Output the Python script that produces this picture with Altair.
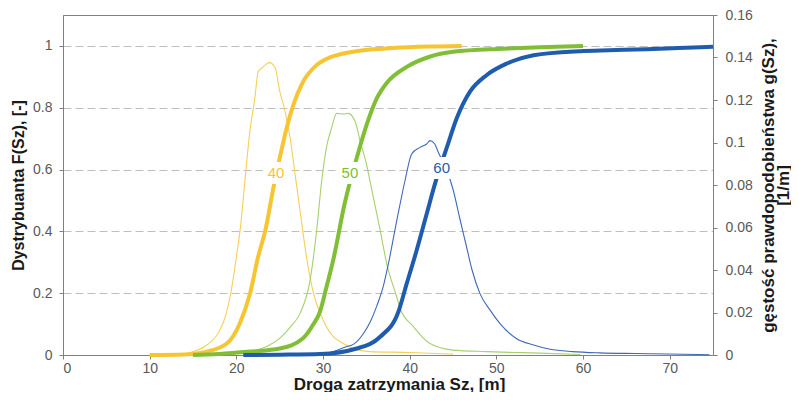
import altair as alt
import pandas as pd

# ---- data ----
# density g(Sz) [1/m]  (thin lines, right axis)
pdf40_x = [10, 14, 15, 16.6, 18.1, 18.8, 19.4, 20.0, 20.5, 21.1, 21.57, 22.15, 22.5, 23.1, 23.5, 23.8,
           24.46, 25.0, 25.6, 26.2, 26.77, 27.35, 28.1, 28.9, 29.85, 31.2, 32.0, 33.5, 35.4, 40, 45]
pdf40_g = [0, 0.0005, 0.0016, 0.0047, 0.0117, 0.019, 0.03, 0.046, 0.061, 0.0868, 0.1056, 0.1212, 0.133,
           0.1356, 0.137, 0.1376, 0.1354, 0.1243, 0.115, 0.1024, 0.0853, 0.068, 0.046, 0.029, 0.018, 0.0086,
           0.0062, 0.003, 0.0016, 0.0012, 0.0004]

pdf50_x = [15, 20, 21.6, 23.5, 25.0, 26.2, 27.35, 28.5, 29.27, 29.85, 30.4, 31.0, 31.57, 32.34, 32.9, 33.7,
           34.27, 35.0, 35.8, 36.6, 37.35, 38.5, 38.9, 40.4, 42.3, 45, 48.9, 52, 55, 59.7]
pdf50_g = [0, 0.0008, 0.0016, 0.004, 0.0078, 0.013, 0.0196, 0.035, 0.0587, 0.082, 0.0977, 0.107, 0.1137,
           0.1134, 0.1137, 0.110, 0.1009, 0.09, 0.0743, 0.0587, 0.043, 0.0274, 0.0219, 0.0135, 0.0055,
           0.0023, 0.0016, 0.0012, 0.0009, 0.0002]

pdf60_x = [29.6, 31.2, 32.7, 33.5, 34.65, 35.5, 36.2, 37.0, 37.6, 38.5, 39.46, 40.23, 41.2, 41.96, 42.35,
           42.9, 43.3, 44.2, 45.0, 45.8, 46.5, 47.2, 48.1, 49.3, 50.4, 52.3, 54.3, 56.2, 58.8, 61.9, 66,
           69.7, 74.6]
pdf60_g = [0, 0.0016, 0.0039, 0.005, 0.010, 0.016, 0.023, 0.033, 0.044, 0.063, 0.082, 0.0946, 0.0977,
           0.0993, 0.1009, 0.0993, 0.0954, 0.088, 0.078, 0.064, 0.052, 0.04, 0.029, 0.021, 0.0149,
           0.0078, 0.0047, 0.0027, 0.0016, 0.001, 0.0007, 0.0005, 0.0001]

# distribution F(Sz) [-]  (thick lines, left axis)
cdf40_x = [10, 14, 16.6, 18.9, 20.4, 21.57, 22.5, 23.4, 24.27, 25.0, 25.8, 26.58, 27.7, 29.27, 30.8, 32.0,
           34.65, 38, 42.3, 46]
cdf40_F = [0, 0.002, 0.011, 0.037, 0.102, 0.198, 0.316, 0.41, 0.54, 0.637, 0.734, 0.809, 0.884, 0.938,
           0.963, 0.973, 0.986, 0.993, 0.998, 1.0]

cdf50_x = [15, 18, 21.6, 25.0, 27.7, 28.9, 29.65, 30.4, 31.2, 32.5, 34.07, 35.04, 36.2, 37.35, 39.66, 42.3,
           45, 50.8, 55, 60]
cdf50_F = [0, 0.003, 0.011, 0.021, 0.054, 0.10, 0.14, 0.22, 0.31, 0.49, 0.655, 0.745, 0.83, 0.88, 0.932,
           0.965, 0.981, 0.991, 0.996, 1.0]

cdf60_x = [20.8, 25, 29.65, 33.9, 36.6, 38.7, 39.65, 40.8, 41.96, 42.9, 44.27, 45.43, 46.96, 48.9, 51.2,
           54.3, 59.65, 63, 67.3, 71, 75]
cdf60_F = [0, 0.001, 0.003, 0.021, 0.059, 0.14, 0.23, 0.338, 0.456, 0.552, 0.67, 0.766, 0.852, 0.906,
           0.943, 0.97, 0.983, 0.986, 0.989, 0.993, 0.997]

# series labels placed on the distribution curves
label_text = ["40", "50", "60"]
label_x = [24.58, 33.11, 43.69]
label_F = [0.589, 0.589, 0.605]

series = ["40", "50", "60"]
thick_colors = ["#F7C531", "#80BE36", "#1F5CAE"]
thin_colors = ["#F6CF55", "#A8D06C", "#3F68BA"]
text_colors = ["#F5C330", "#86C13C", "#2457A6"]

FONT = "Liberation Sans"


def frame(xs, vs, name):
    return pd.DataFrame({"x": xs, "v": vs, "s": name})


pdf_df = pd.concat([frame(pdf40_x, pdf40_g, "40"), frame(pdf50_x, pdf50_g, "50"),
                    frame(pdf60_x, pdf60_g, "60")], ignore_index=True)
cdf_df = pd.concat([frame(cdf40_x, cdf40_F, "40"), frame(cdf50_x, cdf50_F, "50"),
                    frame(cdf60_x, cdf60_F, "60")], ignore_index=True)
lab_df = pd.DataFrame({"x": label_x, "v": label_F, "s": label_text})

x_enc = alt.X(
    "x:Q",
    scale=alt.Scale(domain=[0, 75], nice=False, zero=False),
    axis=alt.Axis(
        values=[0, 10, 20, 30, 40, 50, 60, 70],
        title="Droga zatrzymania Sz, [m]",
        grid=False,
        domainColor="#808080", tickColor="#808080", tickSize=4,
        labelFont=FONT, labelFontSize=14, labelColor="#595959", labelPadding=2,
        titleFont=FONT, titleFontSize=17, titleFontWeight="bold", titleColor="#1A1A1A",
        titleX=336, titleY=34, titleAlign="center", titleBaseline="alphabetic",
    ),
)

y_left = alt.Y(
    "v:Q",
    scale=alt.Scale(domain=[0, 1.1], nice=False),
    axis=alt.Axis(
        orient="left",
        values=[0, 0.2, 0.4, 0.6, 0.8, 1.0],
        format="~g",
        title="Dystrybuanta F(Sz), [-]",
        grid=True, gridDash=[8, 4], gridColor="#BFBFBF", gridWidth=1,
        domainColor="#808080", tickColor="#808080", tickSize=4,
        labelFont=FONT, labelFontSize=14, labelColor="#595959", labelPadding=7,
        titleFont=FONT, titleFontSize=16, titleFontWeight="bold", titleColor="#1A1A1A",
        titleAngle=270, titleX=-40, titleY=170, titleAlign="center", titleBaseline="alphabetic",
    ),
)

y_right = alt.Y(
    "v:Q",
    scale=alt.Scale(domain=[0, 0.16], nice=False),
    axis=alt.Axis(
        orient="right",
        values=[0, 0.02, 0.04, 0.06, 0.08, 0.1, 0.12, 0.14, 0.16],
        format="~g",
        title=["gęstość prawdopodobieństwa g(Sz),", "[1/m]"],
        grid=False,
        domainColor="#808080", tickColor="#808080", tickSize=4,
        labelFont=FONT, labelFontSize=14, labelColor="#595959", labelPadding=8,
        titleFont=FONT, titleFontSize=17, titleFontWeight="bold", titleColor="#1A1A1A",
        titleLineHeight=15,
        titleAngle=270, titleX=60, titleY=170, titleAlign="center", titleBaseline="alphabetic",
    ),
)

pdf_layer = alt.Chart(pdf_df).mark_line(strokeWidth=1.1, interpolate="monotone").encode(
    x=x_enc,
    y=y_right,
    color=alt.Color("s:N", scale=alt.Scale(domain=series, range=thin_colors), legend=None),
    detail="s:N",
)

cdf_layer = alt.Chart(cdf_df).mark_line(strokeWidth=4, interpolate="monotone").encode(
    x=x_enc,
    y=y_left,
    color=alt.Color("s:N", scale=alt.Scale(domain=series, range=thick_colors), legend=None),
    detail="s:N",
)

box_layer = alt.Chart(lab_df).mark_point(
    shape="M-1.2,-1H1.2V1H-1.2Z", filled=True, fill="white", strokeWidth=0, opacity=1, size=484
).encode(x=x_enc, y=y_left)

text_layer = alt.Chart(lab_df).mark_text(
    font=FONT, fontSize=15, align="center", baseline="middle"
).encode(
    x=x_enc,
    y=y_left,
    text="s:N",
    color=alt.Color("s:N", scale=alt.Scale(domain=series, range=text_colors), legend=None),
)

left = alt.layer(cdf_layer, box_layer, text_layer)

chart = alt.layer(pdf_layer, left).resolve_scale(
    y="independent", color="independent"
).properties(
    width=650,
    height=340,
    padding={"left": 55, "top": 7, "right": 78, "bottom": 37},
    autosize=alt.AutoSizeParams(type="none"),
    background="white",
).configure_view(stroke="#808080", strokeWidth=1)

chart.save("out.html", embed_options={"renderer": "svg", "actions": False})
